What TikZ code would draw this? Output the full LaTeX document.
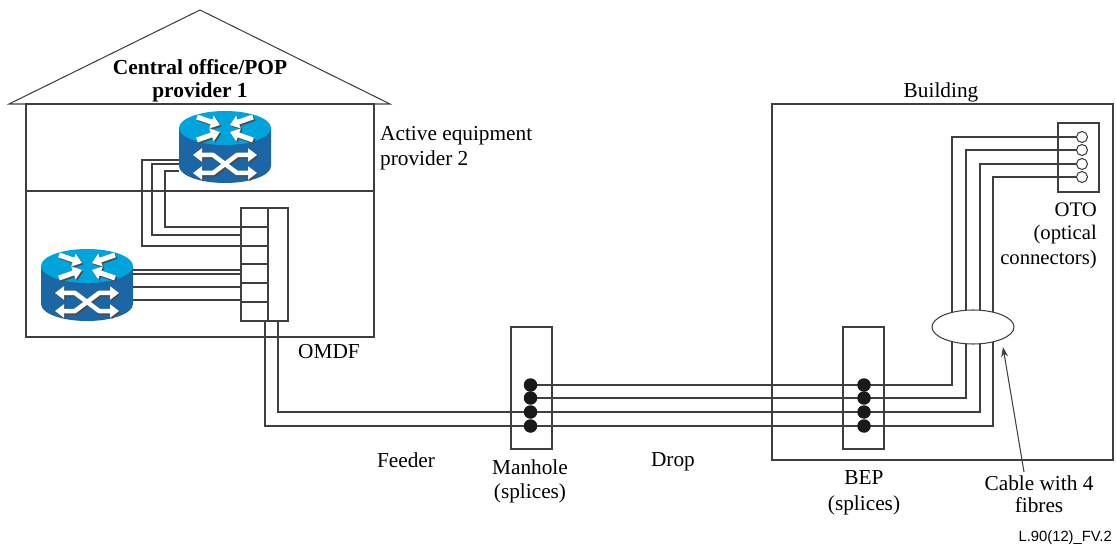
\documentclass[tikz,border=0pt]{standalone}
\usepackage{fontspec}
\setmainfont{Liberation Serif}
\newfontfamily\capfont{Liberation Sans}
\usetikzlibrary{arrows.meta,shapes.geometric}
\definecolor{rtop}{HTML}{00A4DC}
\definecolor{rbody}{HTML}{1B66A4}
\definecolor{wire}{HTML}{3F3F3F}
\newcommand{\routericon}[2]{%
\begin{scope}[shift={(#1,#2)}]
 \fill[rbody] (-46,0) -- (-46,38) arc[start angle=180,end angle=0,x radius=46,y radius=17] -- (46,0) -- cycle;
 \fill[rtop] (0,0) ellipse[x radius=46,y radius=17];
 \foreach \off/\col in {1.5/black!70,0/white}{%
  \begin{scope}[shift={(\off,\off)}]
   \draw[rarrow,draw=\col] (-28,-11) -- (-5,-3);
   \draw[rarrow,draw=\col] (28,-11) -- (5,-3);
   \draw[rarrow,draw=\col] (-28,12) -- (-5,4);
   \draw[rarrow,draw=\col] (28,12) -- (5,4);
   \draw[rcross,draw=\col] (-32,27) -- (-12,27) -- (12,45) -- (32,45);
   \draw[rcross,draw=\col] (-32,45) -- (-12,45) -- (12,27) -- (32,27);
  \end{scope}}
\end{scope}}
\tikzset{
 x=1pt,y=-1pt,
 rarrow/.style={line width=5pt,-{Triangle[length=9pt,width=13pt]}},
 rcross/.style={line width=4.5pt,line join=round,{Triangle[length=9pt,width=13pt]}-{Triangle[length=9pt,width=13pt]}},
 boxline/.style={draw=wire,line width=1.05pt},
 fibre/.style={draw=wire,line width=1.05pt},
 panel/.style={boxline,fill=none,inner sep=0pt,outer sep=0pt},
 dotnode/.style={circle,fill=black!90,inner sep=0pt,minimum size=13.5pt,outer sep=0pt},
 portnode/.style={circle,boxline,fill=white,inner sep=0pt,minimum size=11pt,outer sep=0pt},
 cablenode/.style={ellipse,boxline,fill=white,inner sep=0pt,outer sep=0pt,minimum width=82pt,minimum height=34pt},
 pointer/.style={draw=wire,line width=1.05pt,-{Stealth[length=10pt,width=7pt]}},
 label/.style={font=\fontsize{21.3}{24}\selectfont,inner sep=0pt,anchor=base},
 labelw/.style={label,anchor=base west},
 labele/.style={label,font=\fontsize{20.7}{24}\selectfont,anchor=base east},
 headlabel/.style={label,font=\fontsize{21.4}{24}\selectfont\bfseries},
 codelabel/.style={font=\fontsize{14.8}{16}\selectfont\capfont,inner sep=0pt,anchor=base east},
}
\begin{document}
\begin{tikzpicture}
\useasboundingbox (0,0) rectangle (1116,545);
% house
\coordinate (apex) at (200,10);
\coordinate (eaveL) at (9,104);
\coordinate (eaveR) at (390,104);
\coordinate (wallL) at (26,191);
\coordinate (wallR) at (374,191);
\draw[boxline] (eaveL) -- (apex) -- (eaveR) -- cycle;
\node[panel,minimum width=348pt,minimum height=233pt] (office) at (200,220.5) {};
\draw[boxline] (wallL) -- (wallR);
\node[panel,minimum width=341pt,minimum height=356pt] (building) at (942.5,282) {};
% boxes
\node[panel,minimum width=47pt,minimum height=113pt] (mdf) at (264.5,264.5) {};
\coordinate (mdfTop) at (268,208);
\coordinate (mdfBot) at (268,321);
\draw[boxline] (mdfTop) -- (mdfBot);
\node[panel,minimum width=41pt,minimum height=122pt] (manhole) at (531.5,388) {};
\node[panel,minimum width=41pt,minimum height=122pt] (bep) at (863.5,388) {};
\node[panel,minimum width=41pt,minimum height=69pt] (oto) at (1078.5,157.5) {};
% MDF ports
\foreach \n/\y in {p1/227,p3/246,p4/264,p5/283,p6/302}{%
 \coordinate (\n) at (241,\y);
 \coordinate (\n e) at (268,\y);
 \draw[boxline] (\n) -- (\n e);}
\coordinate (p2) at (241,235);
% routers
\node[inner sep=0pt,minimum width=92pt,minimum height=72pt] (r1) at (225,147) {};
\node[inner sep=0pt,minimum width=90pt,minimum height=72pt] (r2) at (87,285) {};
% router 1 to MDF
\coordinate (w1) at (179,160); \coordinate (t1) at (142,200);
\coordinate (w2) at (179,164); \coordinate (t2) at (152,200);
\coordinate (w3) at (179,171); \coordinate (t3) at (165,200);
\draw[fibre] (w1) -| (t1) |- (p3);
\draw[fibre] (w2) -| (t2) |- (p2);
\draw[fibre] (w3) -| (t3) |- (p1);
% router 2 to MDF
\foreach \y in {270,274,287,300}{%
 \coordinate (rr\y) at (132,\y);
 \coordinate (mm\y) at (241,\y);
 \draw[fibre] (rr\y) -- (mm\y);}
\routericon{225}{128}
\routericon{87}{266}
% feeder
\coordinate (f1) at (265,321);
\coordinate (f2) at (278,321);
% dots
\foreach \i/\y in {1/385,2/398,3/412,4/426}{%
 \coordinate (mc\i) at (530.5,\y);
 \coordinate (bc\i) at (864,\y);
}
\foreach \i/\y in {1/137,2/150,3/164,4/177}{%
 \coordinate (cc\i) at (1082,\y);
}
\draw[fibre] (f1) |- (mc4);
\draw[fibre] (f2) |- (mc3);
\foreach \i/\x in {1/952,2/966,3/980,4/993}{%
 \coordinate (v\i) at (\x,300);
 \draw[fibre] (mc\i) -- (bc\i) -| (v\i) |- (cc\i);
}
\foreach \i in {1,2,3,4}{%
 \node[dotnode] (m\i) at (mc\i) {};
 \node[dotnode] (b\i) at (bc\i) {};
 \node[portnode] (c\i) at (cc\i) {};
}
\node[cablenode] (cable) at (973,327) {};
% labels
\node[headlabel] (t1a) at (200,75) {Central office/POP};
\node[headlabel] (t1b) at (200,98) {provider 1};
\node[labelw] (t2a) at (380,141) {Active equipment};
\node[labelw] (t2b) at (380,166) {provider 2};
\node[label] (t3a) at (941,98) {Building};
\node[labelw] (t4) at (298,358) {OMDF};
\node[label] (t5) at (406,467) {Feeder};
\node[label] (t6a) at (530,474) {Manhole};
\node[label] (t6b) at (530,498) {(splices)};
\node[label] (t7) at (673,466) {Drop};
\node[label] (t8a) at (864,484) {BEP};
\node[label] (t8b) at (864,510) {(splices)};
\node[label] (t9a) at (1039,490) {Cable with 4};
\node[label] (t9b) at (1039,512) {fibres};
\node[labele] (t10a) at (1097,217) {OTO};
\node[labele] (t10b) at (1097,240) {(optical};
\node[labele] (t10c) at (1097,265) {connectors)};
\node[codelabel] (t11) at (1112,541) {L.90(12)\_FV.2};
\coordinate (ptrStart) at (1024,472);
\coordinate (ptrEnd) at (1003,347);
\draw[pointer] (ptrStart) -- (ptrEnd);
\end{tikzpicture}
\end{document}
